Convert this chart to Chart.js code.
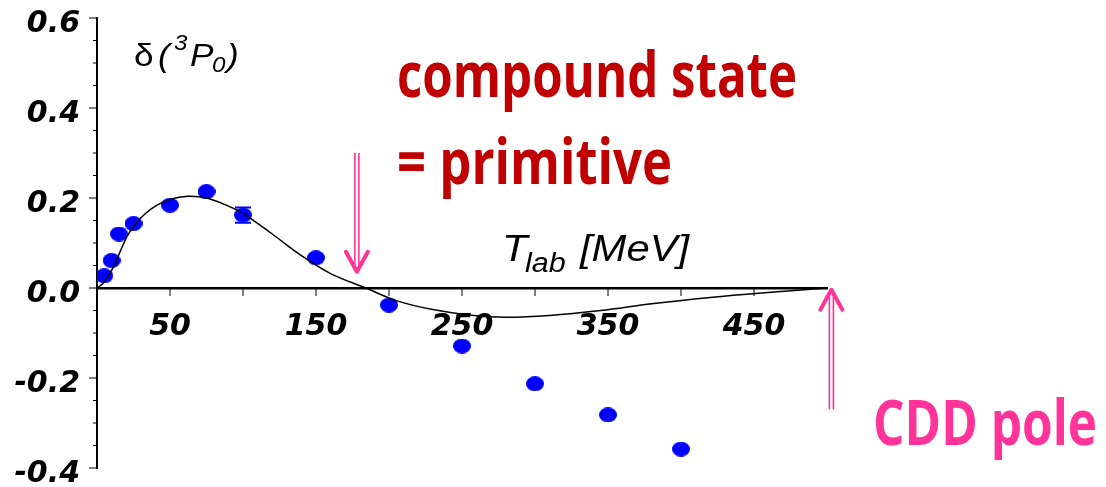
<!DOCTYPE html>
<html>
<head>
<meta charset="utf-8">
<script src="https://cdn.jsdelivr.net/npm/chart.js@4.4.1/dist/chart.umd.min.js"></script>
<style>
    html, body { margin: 0; padding: 0; background: #fff; overflow: hidden; }
    #wrap { width: 1106px; height: 487px; }
</style>
</head>
<body>
<div id="wrap"><canvas id="phaseChart" width="1106" height="487"></canvas></div>
<script>
// 3P0 phase shift: PWA points and model curve vs T_lab
const dataT     = [5, 10, 15, 25, 50, 75, 100, 150, 200, 250, 300, 350, 400];
const dataDelta = [0.027, 0.061, 0.120, 0.143, 0.184, 0.214, 0.162, 0.067, -0.038, -0.129, -0.213, -0.282, -0.358];
const dataErr   = [0, 0, 0, 0, 0, 0, 0.017, 0, 0, 0, 0, 0, 0];

const fitT     = [0, 4, 8, 12, 16, 21, 27, 33, 40, 50, 62, 75, 90, 100, 120, 140, 160, 184, 205, 230, 255, 280, 310, 345, 380, 420, 455, 500];
const fitDelta = [0, 0.010, 0.028, 0.052, 0.082, 0.117, 0.145, 0.165, 0.182, 0.197, 0.204, 0.200, 0.182, 0.166, 0.120, 0.072, 0.032, 0, -0.028, -0.048, -0.060, -0.065, -0.061, -0.050, -0.035, -0.021, -0.011, 0];

const xTickLabels = [50, 150, 250, 350, 450];
const yTickLabels = [-0.4, -0.2, 0.0, 0.2, 0.4, 0.6];

// arrows: T position and delta range (tail -> tip)
const arrowDown = { t: 178, from: 0.30, to: 0.036 };
const arrowUp   = { t: 503, from: -0.27, to: -0.004 };

const tickFont = { family: '"DejaVu Sans"', size: 30, style: 'italic', weight: 'bold' };

function ellipseMarker(w, h, color) {
    const c = document.createElement('canvas');
    c.width = w; c.height = h;
    const g = c.getContext('2d');
    g.fillStyle = color;
    g.beginPath();
    g.ellipse(w / 2, h / 2, w / 2, h / 2, 0, 0, Math.PI * 2);
    g.fill();
    return c;
}

function isLabeled(list, v) {
    return list.some(l => Math.abs(l - v) < 1e-6);
}

function stretchText(ctx, str, x, y, font, color, sx) {
    ctx.save();
    ctx.font = font;
    ctx.fillStyle = color;
    ctx.textBaseline = 'alphabetic';
    ctx.translate(x, y);
    ctx.scale(sx, 1);
    ctx.fillText(str, 0, 0);
    ctx.restore();
}

function drawArrow(ctx, xs, ys, a, color) {
    const x = xs.getPixelForValue(a.t);
    const y0 = ys.getPixelForValue(a.from);
    const y1 = ys.getPixelForValue(a.to);
    const dir = y1 > y0 ? 1 : -1;
    ctx.save();
    ctx.strokeStyle = color;
    ctx.lineWidth = 1.6;
    ctx.beginPath();
    ctx.moveTo(x - 2, y0); ctx.lineTo(x - 2, y1 - dir * 4);
    ctx.moveTo(x + 2, y0); ctx.lineTo(x + 2, y1 - dir * 4);
    ctx.stroke();
    ctx.lineWidth = 4;
    ctx.lineCap = 'round';
    ctx.lineJoin = 'round';
    ctx.beginPath();
    ctx.moveTo(x - 11, y1 - dir * 20);
    ctx.lineTo(x, y1);
    ctx.lineTo(x + 11, y1 - dir * 20);
    ctx.stroke();
    ctx.restore();
}

const decorPlugin = {
    id: 'decor',
    afterDatasetsDraw(chart) {
        const ctx = chart.ctx;
        const xs = chart.scales.x;
        const ys = chart.scales.y;
        const y0 = ys.getPixelForValue(0);

        ctx.save();
        ctx.strokeStyle = '#000';
        // y ticks, pointing outward
        ys.ticks.forEach(t => {
            const py = ys.getPixelForValue(t.value);
            const len = isLabeled(yTickLabels, t.value) ? 8 : 4;
            ctx.lineWidth = 1;
            ctx.beginPath();
            ctx.moveTo(xs.left - len, py);
            ctx.lineTo(xs.left, py);
            ctx.stroke();
        });
        // x ticks below the zero line
        xs.ticks.forEach(t => {
            if (t.value <= 0 || t.value >= 500) return;
            const px = xs.getPixelForValue(t.value);
            ctx.lineWidth = 1;
            ctx.beginPath();
            ctx.moveTo(px, y0);
            ctx.lineTo(px, y0 + 8);
            ctx.stroke();
        });

        // error bars
        ctx.strokeStyle = '#0000ff';
        ctx.lineWidth = 2;
        dataT.forEach((t, i) => {
            if (!dataErr[i]) return;
            const px = xs.getPixelForValue(t);
            const pa = ys.getPixelForValue(dataDelta[i] + dataErr[i]);
            const pb = ys.getPixelForValue(dataDelta[i] - dataErr[i]);
            ctx.beginPath();
            ctx.moveTo(px, pa); ctx.lineTo(px, pb);
            ctx.moveTo(px - 8, pa); ctx.lineTo(px + 8, pa);
            ctx.moveTo(px - 8, pb); ctx.lineTo(px + 8, pb);
            ctx.stroke();
        });
        ctx.restore();

        // axis titles
        const lib = '"Liberation Sans"';
        stretchText(ctx, '\u03b4', 134, 66, `32px ${lib}`, '#000', 1.1);
        stretchText(ctx, '(', 158, 66, `italic 32px ${lib}`, '#000', 1.1);
        stretchText(ctx, '3', 174, 50, `italic 22px ${lib}`, '#000', 1.1);
        stretchText(ctx, 'P', 190, 66, `italic 32px ${lib}`, '#000', 1.1);
        stretchText(ctx, '0', 212, 72, `italic 22px ${lib}`, '#000', 1.1);
        stretchText(ctx, ')', 227, 66, `italic 32px ${lib}`, '#000', 1.1);

        stretchText(ctx, 'T', 502, 261, `italic 37px ${lib}`, '#000', 1.13);
        stretchText(ctx, 'lab', 525, 272, `italic 27px ${lib}`, '#000', 1.13);
        stretchText(ctx, '[MeV]', 580, 261, `italic 37px ${lib}`, '#000', 1.13);

        // notes
        ctx.save();
        ctx.textBaseline = 'alphabetic';
        ctx.font = 'bold 62px "Open Sans"';
        ctx.fillStyle = '#c00000';
        ctx.fillText('compound state', 397, 97, 400);
        ctx.fillText('= primitive', 397, 184, 275);
        ctx.fillStyle = '#ff3399';
        ctx.fillText('CDD pole', 873, 445, 224);
        ctx.restore();

        drawArrow(ctx, xs, ys, arrowDown, '#ff3399');
        drawArrow(ctx, xs, ys, arrowUp, '#ff3399');
    }
};

new Chart(document.getElementById('phaseChart').getContext('2d'), {
    type: 'scatter',
    data: {
        datasets: [
            {
                type: 'line',
                label: 'model',
                data: fitT.map((t, i) => ({ x: t, y: fitDelta[i] })),
                borderColor: '#000',
                borderWidth: 1.5,
                pointRadius: 0,
                fill: false,
                tension: 0.35
            },
            {
                label: 'PWA',
                data: dataT.map((t, i) => ({ x: t, y: dataDelta[i] })),
                pointStyle: ellipseMarker(18, 15, '#0000ff'),
                pointRadius: 8,
                showLine: false
            }
        ]
    },
    options: {
        responsive: false,
        animation: false,
        devicePixelRatio: 1,
        layout: { padding: { top: 18, right: 279, bottom: 19, left: 0 } },
        plugins: {
            legend: { display: false },
            tooltip: { enabled: false }
        },
        scales: {
            x: {
                type: 'linear',
                min: 0,
                max: 500,
                position: { y: 0 },
                grid: { display: false, drawTicks: false },
                border: { display: true, color: '#000', width: 2.5 },
                ticks: {
                    stepSize: 50,
                    autoSkip: false,
                    maxRotation: 0,
                    padding: 21,
                    color: '#000',
                    font: tickFont,
                    callback: v => isLabeled(xTickLabels, v) ? String(v) : ''
                },
                afterFit(scale) {
                    scale.paddingLeft = 0;
                    scale.paddingRight = 0;
                }
            },
            y: {
                type: 'linear',
                min: -0.4,
                max: 0.6,
                grid: { display: false, drawTicks: false },
                border: { display: true, color: '#000', width: 2 },
                ticks: {
                    stepSize: 0.05,
                    autoSkip: false,
                    padding: 17,
                    labelOffset: 6,
                    color: '#000',
                    font: tickFont,
                    callback: v => {
                        if (!isLabeled(yTickLabels, v)) return '';
                        return Math.abs(v) < 1e-9 ? '0.0' : v.toFixed(1);
                    }
                },
                afterFit(scale) {
                    scale.width = 97;
                    scale.paddingTop = 0;
                    scale.paddingBottom = 0;
                }
            }
        }
    },
    plugins: [decorPlugin]
});
</script>
</body>
</html>
